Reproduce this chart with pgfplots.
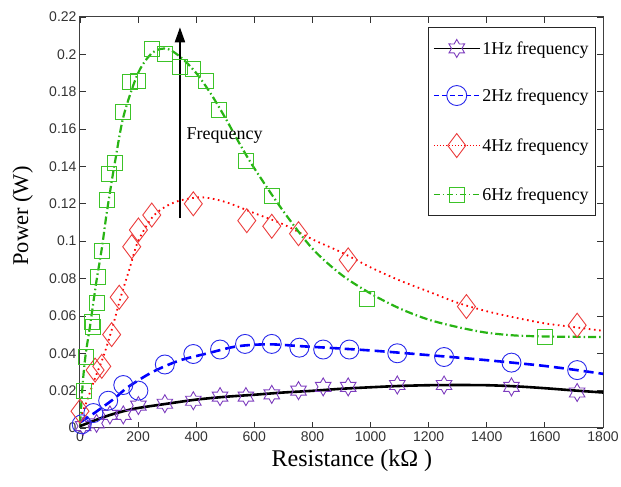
\documentclass[border=0pt]{standalone}
\usepackage{fontspec}
\setmainfont{Liberation Serif}
\newfontfamily\tickfont{Liberation Sans}
\usepackage{pgfplots}
\pgfplotsset{compat=1.18}
\usetikzlibrary{arrows.meta}

\definecolor{starpurple}{RGB}{125,60,190}
\definecolor{lineblue}{RGB}{0,0,255}
\definecolor{circblue}{RGB}{40,40,235}
\definecolor{linered}{RGB}{255,0,0}
\definecolor{diared}{RGB}{235,60,60}
\definecolor{linegreen}{RGB}{40,180,20}
\definecolor{sqgreen}{RGB}{60,195,40}

% six-pointed star outline
\pgfdeclareplotmark{hexstar}{%
  \pgfpathmoveto{\pgfpointpolar{90}{\pgfplotmarksize}}%
  \pgfpathlineto{\pgfpointpolar{120}{0.577\pgfplotmarksize}}%
  \pgfpathlineto{\pgfpointpolar{150}{\pgfplotmarksize}}%
  \pgfpathlineto{\pgfpointpolar{180}{0.577\pgfplotmarksize}}%
  \pgfpathlineto{\pgfpointpolar{210}{\pgfplotmarksize}}%
  \pgfpathlineto{\pgfpointpolar{240}{0.577\pgfplotmarksize}}%
  \pgfpathlineto{\pgfpointpolar{270}{\pgfplotmarksize}}%
  \pgfpathlineto{\pgfpointpolar{300}{0.577\pgfplotmarksize}}%
  \pgfpathlineto{\pgfpointpolar{330}{\pgfplotmarksize}}%
  \pgfpathlineto{\pgfpointpolar{0}{0.577\pgfplotmarksize}}%
  \pgfpathlineto{\pgfpointpolar{30}{\pgfplotmarksize}}%
  \pgfpathlineto{\pgfpointpolar{60}{0.577\pgfplotmarksize}}%
  \pgfpathclose\pgfusepathqstroke}

\begin{document}
\begin{tikzpicture}
\begin{axis}[
    scale only axis,
    width=523pt, height=411pt,
    xmin=0, xmax=1800, ymin=0, ymax=0.22,
    xtick={0,200,...,1800},
    ytick={0,0.02,0.04,0.06,0.08,0.1,0.12,0.14,0.16,0.18,0.2,0.22},
    scaled ticks=false,
    /pgf/number format/1000 sep={},
    /pgf/number format/assume math mode=true,
    yticklabel style={/pgf/number format/fixed, /pgf/number format/precision=2},
    tick label style={font=\tickfont\fontsize{14}{16}\selectfont, text=black!80},
    major tick length=6pt,
    tick style={black!80, line width=0.8pt},
    axis line style={black!75, line width=1pt},
    clip=false,
    xlabel={Resistance (kΩ )},
    ylabel={Power (W)},
    every axis x label/.style={at={(axis description cs:0.52,-0.094)}, anchor=base, font=\fontsize{24}{26}\selectfont},
    every axis y label/.style={at={(axis description cs:-0.0994,0.516)}, anchor=base, rotate=90, font=\fontsize{22.5}{24}\selectfont},
    legend style={at={(0.987,0.976)}, anchor=north east, draw=black!85, line width=1pt,
        font=\fontsize{18}{20}\selectfont, row sep=28pt, inner xsep=5pt, inner ysep=12pt},
    legend cell align=left,
    legend image code/.code={\draw[mark repeat=2,mark phase=2,#1] plot coordinates {(0pt,0pt) (23pt,0pt) (46pt,0pt)};},
]
% fitted curves
\addplot[black, line width=2.6pt, smooth, forget plot] coordinates {
(0,0.001) (50,0.004) (100,0.0068) (150,0.009) (200,0.0107) (300,0.013) (400,0.0152)
(500,0.0167) (600,0.0178) (700,0.019) (800,0.0199) (900,0.021) (1000,0.0218)
(1100,0.0225) (1200,0.0229) (1300,0.023) (1400,0.0229) (1500,0.0223) (1600,0.0213)
(1700,0.0201) (1800,0.019)};
\addplot[lineblue, line width=2.6pt, dash pattern=on 10pt off 5pt, smooth, forget plot] coordinates {
(0,0.003) (40,0.007) (80,0.0114) (120,0.016) (166,0.022) (250,0.030) (340,0.036)
(440,0.040) (540,0.0437) (650,0.0448) (770,0.0437) (880,0.0427) (1000,0.0415)
(1100,0.0403) (1200,0.039) (1300,0.0377) (1400,0.0363) (1500,0.0348) (1600,0.0332)
(1700,0.0312) (1800,0.029)};
\addplot[linered, line width=1.8pt, dash pattern=on 1.6pt off 3.6pt, smooth, forget plot] coordinates {
(0,0.005) (25,0.015) (50,0.026) (80,0.038) (110,0.053) (140,0.07) (170,0.085)
(200,0.1) (250,0.113) (300,0.119) (350,0.122) (420,0.1235) (500,0.121) (600,0.115)
(700,0.109) (800,0.101) (900,0.094) (1000,0.086) (1100,0.079) (1200,0.073)
(1300,0.067) (1400,0.0625) (1500,0.059) (1600,0.056) (1700,0.054) (1800,0.052)};
\addplot[linegreen, line width=2.2pt, dash pattern=on 8pt off 3pt on 1.5pt off 3pt, smooth, forget plot] coordinates {
(0,0.002) (10,0.025) (20,0.04) (35,0.055) (55,0.077) (75,0.096) (90,0.113) (105,0.128)
(120,0.142) (150,0.167) (200,0.19) (250,0.201) (300,0.203) (350,0.198) (400,0.19)
(450,0.179) (500,0.166) (550,0.152) (600,0.139) (700,0.116) (800,0.096) (900,0.082)
(1000,0.072) (1100,0.064) (1200,0.058) (1300,0.054) (1400,0.051) (1500,0.0495)
(1600,0.049) (1700,0.0488) (1800,0.0487)};
% measured points
\addplot[only marks, mark=hexstar, mark size=9pt, mark options={draw=starpurple, line width=0.9pt}, forget plot] coordinates {
(11,0.001) (57,0.0025) (103,0.007) (149,0.007) (201,0.012) (292,0.013) (390,0.0146)
(482,0.0168) (571,0.0168) (660,0.018) (752,0.020) (837,0.022) (923,0.022)
(1092,0.023) (1253,0.023) (1485,0.022) (1711,0.019)};
\addplot[only marks, mark=o, mark size=9.5pt, mark options={draw=circblue, line width=0.9pt}, forget plot] coordinates {
(6,0.002) (46,0.008) (97,0.0146) (149,0.023) (201,0.020) (292,0.034) (390,0.0396)
(482,0.042) (568,0.045) (660,0.045) (755,0.043) (837,0.042) (927,0.042)
(1092,0.040) (1253,0.038) (1485,0.035) (1711,0.031)};
\addplot[only marks, mark=diamond, mark size=12pt, mark options={draw=diared, line width=0.9pt}, forget plot] coordinates {
(0,0.009) (52,0.031) (75,0.033) (109,0.050) (135,0.070) (178,0.097) (201,0.106)
(247,0.114) (390,0.120) (574,0.111) (660,0.108) (752,0.104) (923,0.090)
(1330,0.065) (1711,0.055)};
\addplot[only marks, mark=square, mark size=7.5pt, mark options={draw=sqgreen, line width=0.9pt}, forget plot] coordinates {
(12,0.020) (21,0.038) (40,0.057) (46,0.054) (57,0.067) (63,0.081) (75,0.095)
(92,0.122) (101,0.136) (120,0.142) (149,0.169) (172,0.185) (201,0.186) (247,0.203)
(292,0.200) (344,0.193) (388,0.192) (434,0.186) (479,0.170) (571,0.143) (660,0.124)
(986,0.069) (1600,0.049)};
% legend
\addlegendimage{black, line width=1pt, mark=hexstar, mark size=9pt, mark options={solid, draw=starpurple, line width=0.9pt}}
\addlegendentry{1Hz frequency}
\addlegendimage{lineblue, line width=1pt, dash pattern=on 5pt off 3pt, mark=o, mark size=10pt, mark options={solid, draw=circblue, line width=0.9pt}}
\addlegendentry{2Hz frequency}
\addlegendimage{linered, line width=1pt, dash pattern=on 1.5pt off 1.5pt, mark=diamond, mark size=12pt, mark options={solid, draw=diared, line width=0.9pt}}
\addlegendentry{4Hz frequency}
\addlegendimage{linegreen, line width=1pt, dash pattern=on 6pt off 3pt on 1pt off 3pt, mark=square, mark size=7.5pt, mark options={solid, draw=sqgreen, line width=0.9pt}}
\addlegendentry{6Hz frequency}
% annotation
\draw[-{Triangle[length=15pt,width=10pt]}, line width=2pt] (axis cs:344,0.1124) -- (axis cs:344,0.2145);
\node[anchor=west, font=\fontsize{18}{20}\selectfont] at (axis cs:355,0.1568) {Frequency};
\end{axis}
\pgfresetboundingbox
\path (current axis.south west) ++(-80pt,-59pt) rectangle ++(621pt,487pt);
\end{tikzpicture}
\end{document}
